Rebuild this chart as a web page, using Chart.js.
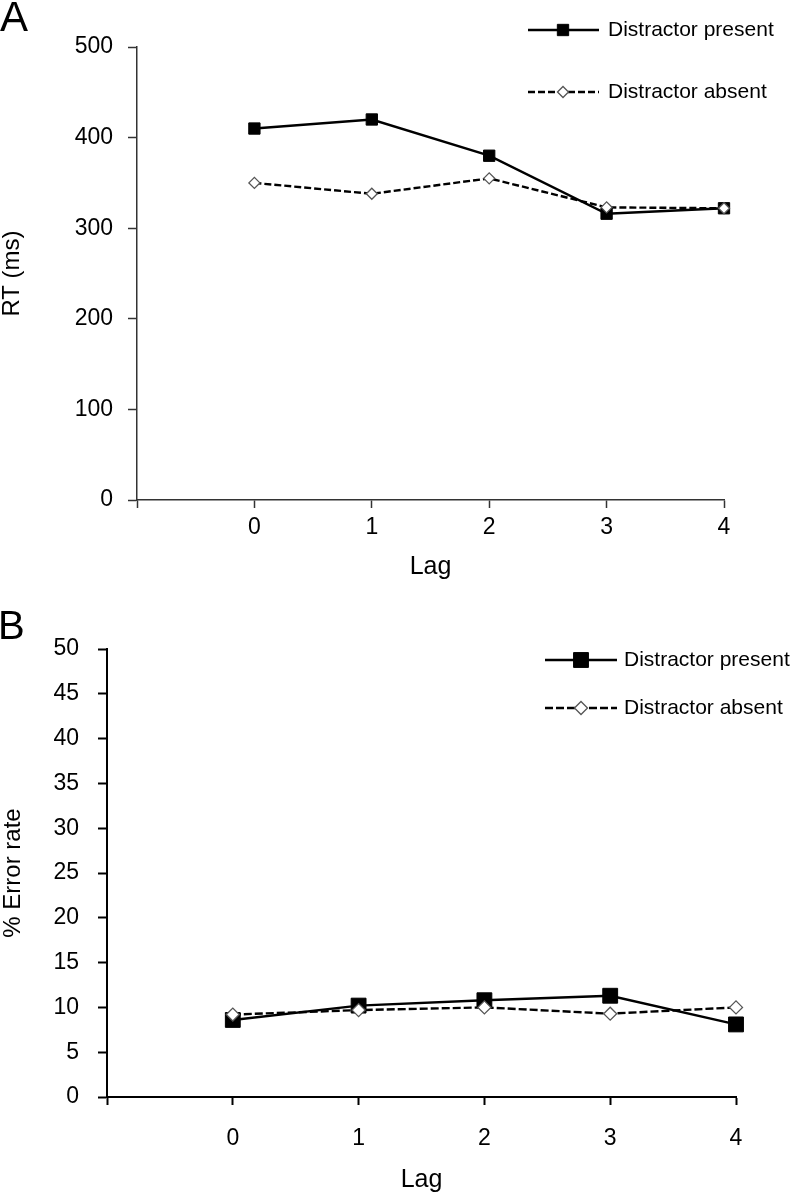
<!DOCTYPE html>
<html><head><meta charset="utf-8">
<script src="https://cdn.jsdelivr.net/npm/chart.js@4.4.0/dist/chart.umd.min.js"></script>
<style>
html,body{margin:0;padding:0;background:#fff;width:793px;height:1193px;overflow:hidden;}
.panel{position:absolute;left:0;}
.letter{position:absolute;font-family:"Liberation Sans",Arial,sans-serif;line-height:1;color:#000;z-index:2;}
</style></head><body>
<canvas id="cA" class="panel" width="793" height="590" style="top:0"></canvas>
<canvas id="cB" class="panel" width="793" height="603" style="top:590px"></canvas>
<div class="letter" style="left:0;top:-4px;font-size:42px">A</div>
<div class="letter" style="left:-2px;top:605px;font-size:40px">B</div>
<script>
// ---- data ----
const lags = [0, 1, 2, 3, 4];
const seriesNames = ['Distractor present', 'Distractor absent'];
const rtPresent = [410, 420, 380, 316, 322];
const rtAbsent  = [350, 338, 355, 323, 322];
const errPresent = [8.6, 10.2, 10.8, 11.3, 8.1];
const errAbsent  = [9.2, 9.7, 10.0, 9.3, 10.0];
const rtTicks  = [0, 100, 200, 300, 400, 500];
const errTicks = [0, 5, 10, 15, 20, 25, 30, 35, 40, 45, 50];
const xMin = -1;

const FONT = '"Liberation Sans", Arial, sans-serif';

function drawMarker(ctx, style, r, x, y, fill, stroke, bw) {
  ctx.save();
  ctx.beginPath();
  if (style === 'rect') {
    const s = Math.SQRT1_2 * r;
    ctx.rect(x - s, y - s, 2 * s, 2 * s);
  } else {
    ctx.moveTo(x - r, y); ctx.lineTo(x, y - r); ctx.lineTo(x + r, y); ctx.lineTo(x, y + r); ctx.closePath();
  }
  ctx.fillStyle = fill; ctx.fill();
  if (bw > 0) { ctx.lineWidth = bw; ctx.strokeStyle = stroke; ctx.setLineDash([]); ctx.stroke(); }
  ctx.restore();
}

const lineLegend = {
  id: 'lineLegend',
  afterDraw(chart, args, o) {
    const ctx = chart.ctx;
    chart.data.datasets.forEach((ds, i) => {
      const y = o.rows[i];
      ctx.save();
      ctx.strokeStyle = ds.borderColor; ctx.lineWidth = ds.borderWidth;
      ctx.setLineDash(ds.borderDash || []);
      ctx.beginPath(); ctx.moveTo(o.x1, y); ctx.lineTo(o.x2, y); ctx.stroke();
      ctx.restore();
      drawMarker(ctx, ds.pointStyle, ds.pointRadius, o.mx, y, ds.pointBackgroundColor, ds.pointBorderColor, ds.pointBorderWidth);
      ctx.save();
      ctx.fillStyle = '#000'; ctx.font = o.fontSize + 'px ' + FONT;
      ctx.textBaseline = 'middle'; ctx.textAlign = 'left';
      ctx.fillText(ds.label, o.tx, y);
      ctx.restore();
    });
  }
};

function makeChart(id, p) {
  const ds = (vals, i) => {
    const present = i === 0;
    return {
      label: seriesNames[i],
      data: lags.map((l, k) => ({ x: l, y: vals[k] })),
      borderColor: '#000',
      borderWidth: 2.4,
      borderDash: present ? [] : p.dash,
      tension: 0,
      fill: false,
      clip: false,
      order: present ? 1 : 0,
      pointStyle: present ? 'rect' : 'rectRot',
      pointRadius: present ? p.sqR : p.diaR,
      pointHoverRadius: present ? p.sqR : p.diaR,
      pointBackgroundColor: present ? '#000' : '#fff',
      pointBorderColor: present ? '#000' : '#555',
      pointBorderWidth: present ? 1 : 1.3
    };
  };
  const yt = p.ticks;
  return new Chart(document.getElementById(id), {
    type: 'line',
    data: { datasets: [ds(p.present, 0), ds(p.absent, 1)] },
    options: {
      responsive: false, animation: false, devicePixelRatio: 1,
      layout: { padding: { left: 0, right: p.padRight, top: p.padTop, bottom: 0 } },
      plugins: { legend: { display: false }, tooltip: { enabled: false }, lineLegend: p.legend },
      scales: {
        x: {
          type: 'linear', min: xMin, max: lags[lags.length - 1],
          afterFit: s => { s.height = p.xH; },
          grid: { drawOnChartArea: false, drawTicks: true, tickLength: 8, tickColor: p.axisColor, tickWidth: p.axisW },
          border: { display: true, color: p.axisColor, width: p.axisW },
          ticks: { stepSize: 1, padding: p.xPad, color: '#000', font: { family: FONT, size: 23 },
                   callback: v => (v < lags[0] ? '' : String(v)) },
          title: { display: true, text: 'Lag', color: '#000', font: { family: FONT, size: 25, lineHeight: 1.04 },
                   padding: { top: 0, bottom: p.lagPad } }
        },
        y: {
          min: yt[0], max: yt[yt.length - 1],
          afterFit: s => { s.width = p.yW; },
          grid: { drawOnChartArea: false, drawTicks: true, tickLength: 9, tickColor: p.axisColor, tickWidth: p.axisW },
          border: { display: true, color: p.axisColor, width: p.axisW },
          ticks: { stepSize: yt[1] - yt[0], padding: p.yPad, color: '#000', font: { family: FONT, size: 23 } },
          title: { display: true, text: p.yTitle, color: '#000', font: { family: FONT, size: 24, lineHeight: 1 },
                   padding: { top: p.yTitlePad, bottom: 0 } }
        }
      }
    },
    plugins: [lineLegend]
  });
}

makeChart('cA', {
  present: rtPresent, absent: rtAbsent, ticks: rtTicks, yTitle: 'RT (ms)',
  padRight: 69, padTop: 47, xH: 90, yW: 137, xPad: 6, yPad: 15, lagPad: 10, yTitlePad: 0,
  axisColor: '#333', axisW: 1.5, dash: [7, 3], sqR: 8, diaR: 5.5,
  legend: { x1: 528, x2: 599, mx: 563, tx: 608, rows: [30, 92], fontSize: 21 }
});
makeChart('cB', {
  present: errPresent, absent: errAbsent, ticks: errTicks, yTitle: '% Error rate',
  padRight: 57, padTop: 59, xH: 96, yW: 107, xPad: 20, yPad: 19, lagPad: 0, yTitlePad: 1,
  axisColor: '#000', axisW: 2, dash: [8, 3], sqR: 10.5, diaR: 6.5,
  legend: { x1: 545, x2: 617, mx: 581, tx: 624, rows: [70, 118], fontSize: 21 }
});
</script>
</body></html>
